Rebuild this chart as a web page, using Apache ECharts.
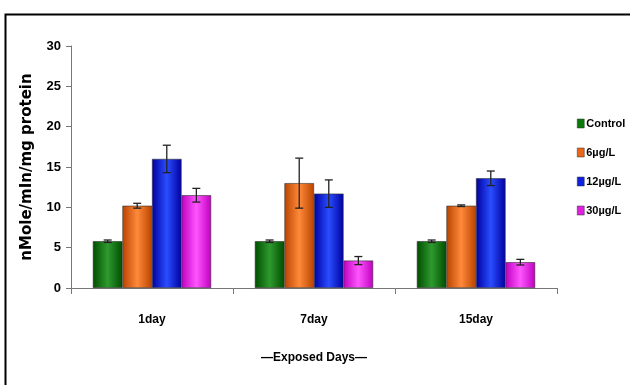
<!DOCTYPE html>
<html><head><meta charset="utf-8">
<script src="https://cdn.jsdelivr.net/npm/echarts@6/dist/echarts.min.js"></script>
<style>html,body{margin:0;padding:0;background:#fff}#c{width:630px;height:385px}</style>
</head><body><div id="c"></div>
<script>
var categories = ['1day', '7day', '15day'];
var seriesNames = ['Control', '6µg/L', '12µg/L', '30µg/L'];
var control = [5.8, 5.8, 5.8];
var controlErr = [0.15, 0.15, 0.15];
var ug6 = [10.2, 13.0, 10.2];
var ug6Err = [0.3, 3.1, 0.1];
var ug12 = [16.0, 11.7, 13.6];
var ug12Err = [1.7, 1.7, 0.9];
var ug30 = [11.5, 3.4, 3.2];
var ug30Err = [0.85, 0.5, 0.35];
var yTicks = [0, 5, 10, 15, 20, 25, 30];

var FONT = "'Liberation Sans Narrow', 'Liberation Sans', Arial, sans-serif";
var values = [control, ug6, ug12, ug30];
var errors = [controlErr, ug6Err, ug12Err, ug30Err];
var colors = [
  ['#004d00', '#2e9a2e', '#004d00'],
  ['#b84300', '#ff8a3a', '#b84300'],
  ['#0000a0', '#2a4dff', '#0000a0'],
  ['#c000c0', '#ff55ff', '#c000c0']
];
var solid = ['#0a7a0a', '#e8661a', '#1020e0', '#e020e0'];
var gapPct = 0.27;

function grad(c) {
  return new echarts.graphic.LinearGradient(0, 0, 1, 0, [
    {offset: 0, color: c[0]}, {offset: 0.5, color: c[1]}, {offset: 1, color: c[2]}
  ]);
}

var series = [];
values.forEach(function (v, i) {
  series.push({
    name: seriesNames[i], type: 'bar', data: v,
    barGap: '0%', barCategoryGap: (gapPct * 100) + '%',
    itemStyle: {color: grad(colors[i]), borderColor: '#333', borderWidth: 0.6},
    z: 2
  });
});
values.forEach(function (v, i) {
  series.push({
    type: 'custom', name: seriesNames[i] + ' err',
    data: v.map(function (val, j) { return [j, val, errors[i][j]]; }),
    z: 5, silent: true,
    renderItem: function (params, api) {
      var x = api.value(0), y = api.value(1), e = api.value(2);
      var band = api.size([1, 0])[0];
      var total = band * (1 - gapPct);
      var bw = total / 4;
      var off = -total / 2 + bw * (i + 0.5);
      var top = api.coord([x, y + e]);
      var bot = api.coord([x, y - e]);
      var cx = top[0] + off;
      var cap = 4;
      var st = {stroke: '#222', lineWidth: 1.3};
      return {type: 'group', children: [
        {type: 'line', shape: {x1: cx, y1: top[1], x2: cx, y2: bot[1]}, style: st},
        {type: 'line', shape: {x1: cx - cap, y1: top[1], x2: cx + cap, y2: top[1]}, style: st},
        {type: 'line', shape: {x1: cx - cap, y1: bot[1], x2: cx + cap, y2: bot[1]}, style: st}
      ]};
    }
  });
});

var chart = echarts.init(document.getElementById('c'), null, {renderer: 'canvas'});
chart.setOption({
  animation: false,
  backgroundColor: '#fff',
  grid: {left: 71, top: 46, right: 73, bottom: 97},
  legend: {
    orient: 'vertical', left: 572, top: 113, itemGap: 18,
    itemWidth: 7, itemHeight: 9, icon: 'rect',
    data: seriesNames.map(function (n, i) {
      return {name: n, itemStyle: {color: solid[i], borderColor: '#333', borderWidth: 0.5}};
    }),
    textStyle: {fontFamily: FONT, fontWeight: 'bold', fontSize: 11, color: '#000', padding: [0, 0, 0, -3]}
  },
  xAxis: {
    type: 'category', data: categories,
    name: '—Exposed Days—', nameLocation: 'middle', nameGap: 64,
    nameTextStyle: {fontFamily: FONT, fontWeight: 'bold', fontSize: 12, color: '#000'},
    axisLine: {lineStyle: {color: '#777', width: 1}},
    axisTick: {show: true, alignWithLabel: false, length: 6, lineStyle: {color: '#777'}},
    axisLabel: {margin: 26, fontFamily: FONT, fontWeight: 'bold', fontSize: 12, color: '#000'}
  },
  yAxis: {
    type: 'value', min: 0, max: 30, interval: 5,
    name: 'nMole/mIn/mg protein', nameLocation: 'middle', nameGap: 36, nameRotate: 90,
    nameTextStyle: {fontFamily: "'DejaVu Sans', sans-serif", fontWeight: 'bold', fontSize: 15, color: '#000'},
    axisLine: {show: true, lineStyle: {color: '#777', width: 1}},
    axisTick: {show: true, length: 5, lineStyle: {color: '#777'}},
    splitLine: {show: false},
    axisLabel: {margin: 10, fontFamily: FONT, fontWeight: 'bold', fontSize: 13, color: '#000',
      formatter: function (v) { return yTicks.indexOf(v) >= 0 ? String(v) : ''; }}
  },
  graphic: [{
    type: 'rect', left: 3, top: 12, z: 100, silent: true,
    shape: {width: 640, height: 380},
    style: {fill: 'none', stroke: '#000', lineWidth: 2}
  }],
  series: series
});
</script></body></html>
